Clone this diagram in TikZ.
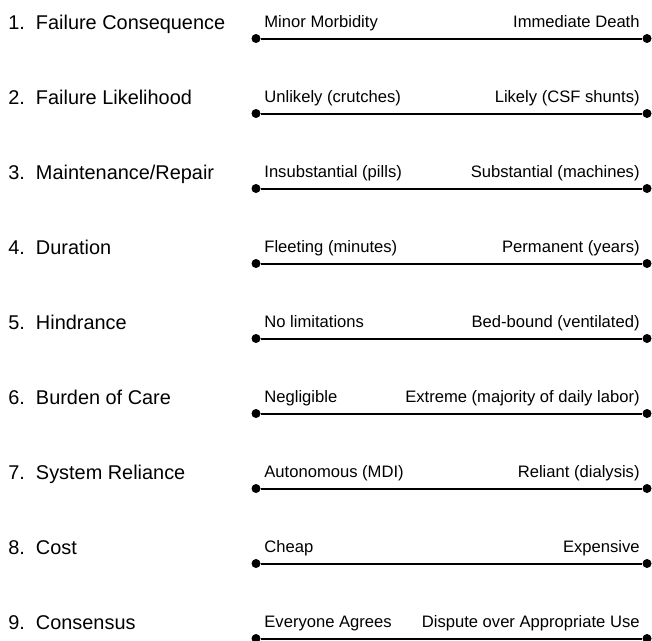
\documentclass[tikz,border=0pt]{standalone}
\usepackage{fontspec}
\setmainfont{Liberation Sans}
\usepackage{tikz}

\begin{document}
\begin{tikzpicture}[x=1pt,y=-1pt,thick,
    cat/.style={anchor=base west,inner sep=0pt,font=\fontsize{19.9}{22}\selectfont},
    lo/.style={anchor=base west,inner sep=0pt,font=\fontsize{16.6}{18}\selectfont},
    hi/.style={anchor=base east,inner sep=0pt,font=\fontsize{16.6}{18}\selectfont},
    dot/.style={circle,fill,inner sep=0pt,minimum size=9pt},
    scale line/.style={line width=2pt}]

  \useasboundingbox (0,0) rectangle (652,640);

  % 1
  \node[cat] (c1) at (8,29) {1.\hspace{11pt}Failure Consequence};
  \node[lo] (a1) at (264,27.5) {Minor Morbidity};
  \node[hi] (b1) at (640,27.5) {Immediate Death};
  \node[dot] (l1) at (256,38.5) {};
  \node[dot] (r1) at (647,38.5) {};
  % 2
  \node[cat] (c2) at (8,104) {2.\hspace{11pt}Failure Likelihood};
  \node[lo] (a2) at (264,102.5) {Unlikely (crutches)};
  \node[hi] (b2) at (640,102.5) {Likely (CSF shunts)};
  \node[dot] (l2) at (256,113.5) {};
  \node[dot] (r2) at (647,113.5) {};
  % 3
  \node[cat] (c3) at (8,179) {3.\hspace{11pt}Maintenance/Repair};
  \node[lo] (a3) at (264,177.5) {Insubstantial (pills)};
  \node[hi] (b3) at (640,177.5) {Substantial (machines)};
  \node[dot] (l3) at (256,188.5) {};
  \node[dot] (r3) at (647,188.5) {};
  % 4
  \node[cat] (c4) at (8,254) {4.\hspace{11pt}Duration};
  \node[lo] (a4) at (264,252.5) {Fleeting (minutes)};
  \node[hi] (b4) at (640,252.5) {Permanent (years)};
  \node[dot] (l4) at (256,263.5) {};
  \node[dot] (r4) at (647,263.5) {};
  % 5
  \node[cat] (c5) at (8,329) {5.\hspace{11pt}Hindrance};
  \node[lo] (a5) at (264,327.5) {No limitations};
  \node[hi] (b5) at (640,327.5) {Bed-bound (ventilated)};
  \node[dot] (l5) at (256,338.5) {};
  \node[dot] (r5) at (647,338.5) {};
  % 6
  \node[cat] (c6) at (8,404) {6.\hspace{11pt}Burden of Care};
  \node[lo] (a6) at (264,402.5) {Negligible};
  \node[hi] (b6) at (640,402.5) {Extreme (majority of daily labor)};
  \node[dot] (l6) at (256,413.5) {};
  \node[dot] (r6) at (647,413.5) {};
  % 7
  \node[cat] (c7) at (8,479) {7.\hspace{11pt}System Reliance};
  \node[lo] (a7) at (264,477.5) {Autonomous (MDI)};
  \node[hi] (b7) at (640,477.5) {Reliant (dialysis)};
  \node[dot] (l7) at (256,488.5) {};
  \node[dot] (r7) at (647,488.5) {};
  % 8
  \node[cat] (c8) at (8,554) {8.\hspace{11pt}Cost};
  \node[lo] (a8) at (264,552.5) {Cheap};
  \node[hi] (b8) at (640,552.5) {Expensive};
  \node[dot] (l8) at (256,563.5) {};
  \node[dot] (r8) at (647,563.5) {};
  % 9
  \node[cat] (c9) at (8,629) {9.\hspace{11pt}Consensus};
  \node[lo] (a9) at (264,627.5) {Everyone Agrees};
  \node[hi] (b9) at (640,627.5) {Dispute over Appropriate Use};
  \node[dot] (l9) at (256,638.5) {};
  \node[dot] (r9) at (647,638.5) {};

  \path[scale line]
    (l1) edge (r1)
    (l2) edge (r2)
    (l3) edge (r3)
    (l4) edge (r4)
    (l5) edge (r5)
    (l6) edge (r6)
    (l7) edge (r7)
    (l8) edge (r8)
    (l9) edge (r9);
\end{tikzpicture}
\end{document}
